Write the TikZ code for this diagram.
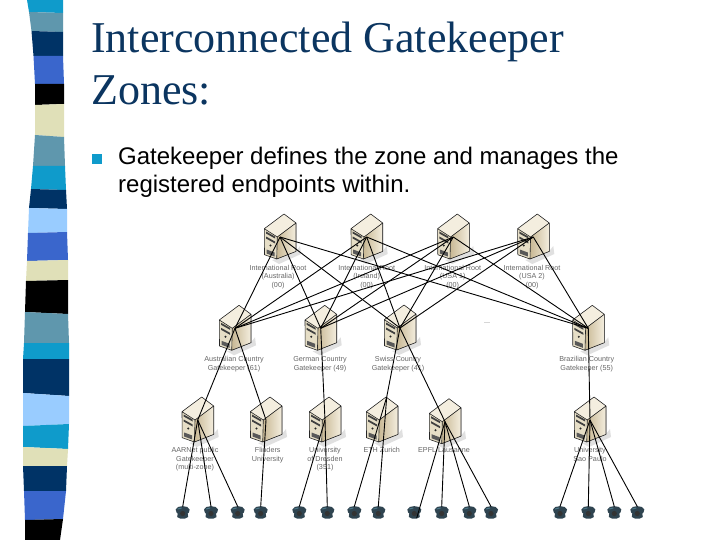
\documentclass[tikz,border=0pt]{standalone}
\usepackage{fontspec}
\setmainfont{Liberation Sans}
\newfontfamily\titlefont{Liberation Serif}
\newcommand{\lbstrut}{\rule{0pt}{6pt}}
\definecolor{cyanb}{HTML}{0F9BCB}
\definecolor{tealb}{HTML}{5F97AD}
\definecolor{navyb}{HTML}{003366}
\definecolor{blueb}{HTML}{3A66CC}
\definecolor{beigeb}{HTML}{E0E0B8}
\definecolor{lightb}{HTML}{99CCFF}
\definecolor{titleblue}{HTML}{0B3560}
\definecolor{labelgray}{HTML}{666666}
\definecolor{phonec}{HTML}{2F4450}
\definecolor{tanA}{HTML}{C8B894}
\definecolor{tanB}{HTML}{F4EEDF}
\definecolor{tanC}{HTML}{E6DEC6}
\tikzset{
  x=1pt,y=-1pt,
  titletext/.style={anchor=base west,inner sep=0,text=titleblue,font=\titlefont\fontsize{44}{44}\selectfont},
  bodytext/.style={anchor=base west,inner sep=0,text=black,font=\fontsize{24}{24}\selectfont},
  lab/.style={inner sep=0,text=labelgray,align=center,font=\fontsize{7.2}{8.6}\selectfont,anchor=north},
  wire/.style={black,line width=0.9pt},
  server/.pic={
    \fill[black!22,opacity=.55] (-4,22) -- (16,14) -- (20,9) -- (21,17) -- (-1,27) -- (-8,23) -- cycle;
    \fill[tanB] (4,-23) -- (16,-14) -- (-2.7,0) -- (-15.7,-8.3) -- cycle;
    \fill[left color=tanA,right color=tanB] (-2.7,0) -- (16,-14) -- (16,14.4) -- (-3.3,22) -- cycle;
    \fill[tanC] (-15.7,-8.3) -- (-2.7,0) -- (-3.3,22) -- (-15.5,17.7) -- cycle;
    \draw[black!85,line width=.6pt,line join=round] (4,-23) -- (16,-14) -- (16,14.4) -- (-3.3,22) -- (-15.5,17.7) -- (-15.7,-8.3) -- cycle (-15.7,-8.3) -- (-2.7,0) -- (16,-14) (-2.7,0) -- (-3.3,22);
    \fill[black!75] (-14,-5.5) -- (-5,-.5) -- (-5,1.5) -- (-14,-3.5) -- cycle;
    \fill[black!75] (-14,-.5) -- (-5,4.5) -- (-5,6.5) -- (-14,1.5) -- cycle;
    \fill[black!85] (-9.5,8.5) circle (1.1);
    \fill[black!65] (-13.5,12.5) -- (-5.5,15.5) -- (-5.5,19.5) -- (-13.5,16.5) -- cycle;
  },
  phone/.pic={
    \fill[phonec] (-7,-2) .. controls (-6,-6.5) and (6,-6.5) .. (7,-2) .. controls (7,1) and (5.5,1.5) .. (5,2) -- (5.5,5.5) -- (2.5,7) -- (-2.5,7) -- (-5.5,5.5) -- (-5,2) .. controls (-5.5,1.5) and (-7,1) .. (-7,-2) -- cycle;
    \fill[black!80] (0,2) circle (2.6);
    \fill[tealb!80!black] (-5,-3) -- (-1,-4) -- (-1,-3) -- (-5,-2) -- cycle;
  },
}
\begin{document}
\begin{tikzpicture}
\useasboundingbox (0,0) rectangle (720,540);
\fill[white] (0,0) rectangle (720,540);
% decorative strip
\fill[cyanb]  (27,0) -- (63,0) -- (63,13) -- (29,12) -- cycle;
\fill[tealb]  (29,12) -- (63,13) -- (63,32) -- (31.5,31) -- cycle;
\fill[navyb]  (31.5,31) -- (63,32) -- (63,56) -- (33.5,56) -- cycle;
\fill[blueb]  (33.5,56) -- (63,56) -- (64,84) -- (35,84) -- cycle;
\fill[black]  (35,84) -- (64,84) -- (64,104) -- (35,105) -- cycle;
\fill[beigeb] (35,105) -- (64,104) -- (64,137) -- (35,135) -- cycle;
\fill[tealb]  (35,135) -- (64,137) -- (65,166) -- (33,166) -- cycle;
\fill[cyanb]  (33,166) -- (65,166) -- (66,190) -- (31,189) -- cycle;
\fill[navyb]  (31,189) -- (66,190) -- (67,209) -- (29,208) -- cycle;
\fill[lightb] (29,208) -- (67,209) -- (67,232) -- (28,233) -- cycle;
\fill[blueb]  (28,233) -- (67,232) -- (68,260) -- (27,261) -- cycle;
\fill[beigeb] (27,261) -- (68,260) -- (68,280) -- (26,281) -- cycle;
\fill[black]  (26,281) -- (68,280) -- (68,314) -- (25,312) -- cycle;
\fill[tealb]  (25,312) -- (68,314) -- (69,343) -- (24,343) -- cycle;
\fill[cyanb]  (24,343) -- (69,343) -- (69,359) -- (23,359) -- cycle;
\fill[navyb]  (23,359) -- (69,359) -- (69,396) -- (23,393) -- cycle;
\fill[lightb] (23,393) -- (69,396) -- (69,424) -- (23,426) -- cycle;
\fill[cyanb]  (23,426) -- (69,424) -- (68,449) -- (23,447) -- cycle;
\fill[beigeb] (23,447) -- (68,449) -- (67,466) -- (23,466) -- cycle;
\fill[navyb]  (23,466) -- (67,466) -- (66,491) -- (24,491) -- cycle;
\fill[blueb]  (24,491) -- (66,491) -- (63,519) -- (25,520) -- cycle;
\fill[black]  (25,520) -- (63,519) -- (60,540) -- (25,540) -- cycle;
% text
\node[titletext] (t1) at (91,53) {Interconnected Gatekeeper};
\node[titletext] (t2) at (91,105) {Zones:};
\fill[cyanb] (92.3,154) rectangle (101.7,164);
\node[bodytext] (b1) at (118,165) {Gatekeeper defines the zone and manages the};
\node[bodytext] (b2) at (118,193) {registered endpoints within.};
% coordinates
\coordinate (r1) at (280,237);
\coordinate (r2) at (366.7,237);
\coordinate (r3) at (453.3,237);
\coordinate (r4) at (533.3,237);
\coordinate (c1) at (235,328.3);
\coordinate (c2) at (320.7,328.3);
\coordinate (c3) at (400,328);
\coordinate (c4) at (588.3,328.3);
\coordinate (l1) at (197.7,420);
\coordinate (l2) at (266,420);
\coordinate (l3) at (325,420);
\coordinate (l4) at (382,420);
\coordinate (l5) at (445,421.7);
\coordinate (l6) at (590,420);
\coordinate (hub4) at (386.7,397);
\foreach \n in {r1,r2,r3,r4,c1,c2,c3,c4,l1,l2,l3,l4,l5,l6} \pic at (\n) {server};
\foreach \n/\x in {p1/182.7,p2/211,p3/237.7,p4/260.7,p5/299.3,p6/327.3,p7/354.3,p8/378.3,p9/414.3,p10/441.7,p11/469.3,p12/491,p13/560,p14/588.3,p15/614.3,p16/637.3}{
  \coordinate (\n) at (\x,511.5);
  \coordinate (\n w) at (\x,506.5);
  \pic at (\n) {phone};
}
\coordinate (p9end) at (416.7,518);
% labels
\node[lab] (lr1) at (278,264) {\lbstrut International Root\\(Australia)\\(00)};
\node[lab] (lr2) at (366.7,264) {\lbstrut International Root\\(Ireland)\\(00)};
\node[lab] (lr3) at (452.7,264) {\lbstrut International Root\\(USA 1)\\(00)};
\node[lab] (lr4) at (532,264) {\lbstrut International Root\\(USA 2)\\(00)};
\node[lab] (lc1) at (234,355.5) {\lbstrut Australian Country\\Gatekeeper (61)};
\node[lab] (lc2) at (320,355.5) {\lbstrut German Country\\Gatekeeper (49)};
\node[lab] (lc3) at (398,355.5) {\lbstrut Swiss Country\\Gatekeeper (41)};
\node[lab] (lc4) at (586.7,355.5) {\lbstrut Brazilian Country\\Gatekeeper (55)};
\node[lab] (ll1) at (195,446.5) {\lbstrut AARNet public\\Gatekeeper\\(multi-zone)};
\node[lab] (ll2) at (267.7,446.5) {\lbstrut Flinders\\University};
\node[lab] (ll3) at (325,446.5) {\lbstrut University\\of Dresden\\(351)};
\node[lab] (ll4) at (381.7,446.5) {\lbstrut ETH Zurich};
\node[lab] (ll5) at (444,446.5) {\lbstrut EPFL Lausanne};
\node[lab] (ll6) at (590,446.5) {\lbstrut University\\Sao Paulo};
\node[lab] (dots) at (487,322) {...};
% wires
\foreach \a in {r1,r2,r3,r4}\foreach \b in {c1,c2,c3,c4} \draw[wire] (\a) -- (\b);
\draw[wire] (c1) -- (l1);
\draw[wire] (c1) -- (l2);
\draw[wire] (c2) -- (l3);
\draw[wire] (c3) -- (hub4);
\draw[wire] (c3) -- (l5);
\draw[wire] (c4) -- (l6);
\foreach \a/\b in {l1/p1w,l1/p2w,l1/p3w,l2/p4w,l3/p5w,l3/p6w,hub4/p7w,hub4/p8w,l5/p10w,l5/p11w,l5/p12w,l6/p13w,l6/p14w,l6/p15w,l6/p16w} \draw[wire] (\a) -- (\b);
\draw[wire] (l5) -- (p9end);
\end{tikzpicture}
\end{document}
